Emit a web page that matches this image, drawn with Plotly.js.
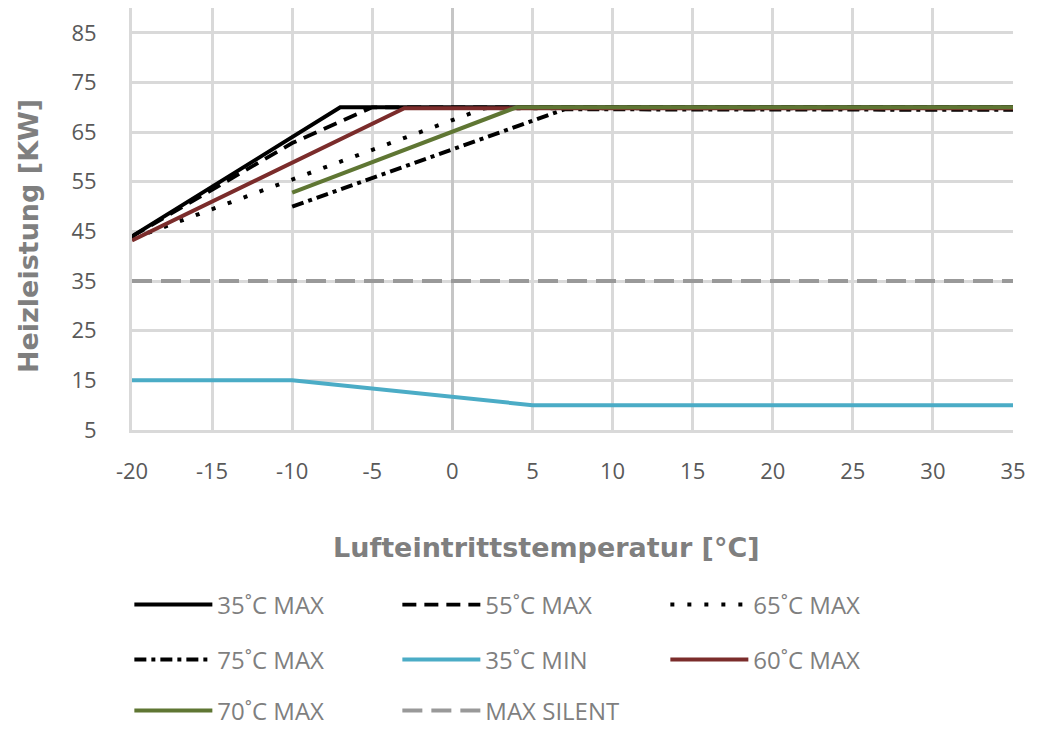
<!DOCTYPE html>
<html>
<head>
<meta charset="utf-8">
<script src="https://cdn.plot.ly/plotly-3.0.1.min.js"></script>
<style>html,body{margin:0;padding:0;background:#fff;}#chart{width:1046px;height:729px;}</style>
</head>
<body>
<div id="chart"></div>
<script>
// ---- data ----
const seriesNames = ['35˚C MAX', '55˚C MAX', '65˚C MAX', '75˚C MAX', '35˚C MIN', '60˚C MAX', '70˚C MAX', 'MAX SILENT'];

const x35max = [-20, -7, 35];
const y35max = [44, 70, 70];

const x55max = [-20, -10, -5, 35];
const y55max = [44, 62.8, 70, 70];

const x65max = [-20, 2, 35];
const y65max = [43.5, 69.8, 69.8];

const x75max = [-10, 7, 35];
const y75max = [50, 69.6, 69.5];

const x35min = [-20, -10, 5, 35];
const y35min = [15, 15, 10, 10];

const x60max = [-20, -3, 35];
const y60max = [43.2, 69.8, 69.8];

const x70max = [-10, 4, 35];
const y70max = [52.8, 70, 70];

const xSilent = [-20, 35];
const ySilent = [35, 35];

const xTickVals = [-20, -15, -10, -5, 0, 5, 10, 15, 20, 25, 30, 35];
const xTickText = ['-20', '-15', '-10', '-5', '0', '5', '10', '15', '20', '25', '30', '35'];
const yTickVals = [5, 15, 25, 35, 45, 55, 65, 75, 85];

const xTitle = 'Lufteintrittstemperatur [°C]';
const yTitle = 'Heizleistung [KW]';

// ---- traces ----
function tr(x, y, name, color, width, dash, legend) {
  return {x: x, y: y, name: name, type: 'scatter', mode: 'lines',
          line: {color: color, width: width, dash: dash}, legend: legend,
          hoverinfo: 'x+y+name'};
}
const traces = [
  tr(x35max, y35max, seriesNames[0], '#000000', 4, 'solid', 'legend'),
  tr(x55max, y55max, seriesNames[1], '#000000', 3.8, '14px,8px', 'legend'),
  tr(x65max, y65max, seriesNames[2], '#000000', 4, '4px,13px', 'legend'),
  tr(x75max, y75max, seriesNames[3], '#000000', 4, '12px,5px,4px,5px', 'legend2'),
  tr(x35min, y35min, seriesNames[4], '#4bacc6', 4, 'solid', 'legend2'),
  tr(x60max, y60max, seriesNames[5], '#7b2c2b', 4, 'solid', 'legend2'),
  tr(x70max, y70max, seriesNames[6], '#5f7633', 4, 'solid', 'legend3'),
  tr(xSilent, ySilent, seriesNames[7], '#999999', 4, '20px,9px', 'legend3')
];

const legendFont = {family: 'Open Sans, sans-serif', size: 24, color: '#7f7f7f'};
function lg(y) {
  return {orientation: 'h', x: -0.003, xanchor: 'left', y: y, yanchor: 'middle',
          entrywidth: 175, entrywidthmode: 'pixels', itemwidth: 78,
          font: legendFont, bgcolor: 'rgba(0,0,0,0)', borderwidth: 0,
          traceorder: 'normal', itemclick: false, itemdoubleclick: false};
}

const titleFont = {family: 'DejaVu Sans, sans-serif', size: 27, color: '#7f7f7f', weight: 'bold'};
const tickFont = {family: 'Open Sans, sans-serif', size: 22, color: '#595959'};

// plot area: x 132..1013 px, y 8..430 px
const layout = {
  width: 1046, height: 729,
  margin: {l: 132, r: 33, t: 8, b: 299, pad: 0, autoexpand: false},
  paper_bgcolor: '#ffffff', plot_bgcolor: '#ffffff',
  showlegend: true,
  xaxis: {
    range: [-20, 35], tickmode: 'array', tickvals: xTickVals, ticktext: xTickText,
    showgrid: true, gridcolor: '#d9d9d9', gridwidth: 3,
    zeroline: true, zerolinecolor: '#c6c6c6', zerolinewidth: 3,
    showline: true, linecolor: '#d9d9d9', linewidth: 3,
    ticks: '', ticklabelstandoff: 20, tickfont: tickFont,
    fixedrange: true
  },
  yaxis: {
    range: [5, 90], tickmode: 'array', tickvals: yTickVals,
    showgrid: true, gridcolor: '#d9d9d9', gridwidth: 3,
    zeroline: false,
    showline: true, linecolor: '#d9d9d9', linewidth: 3,
    ticks: '', ticklabelstandoff: 28, tickfont: tickFont,
    fixedrange: true
  },
  annotations: [
    {text: xTitle, xref: 'paper', yref: 'paper', x: 0.471, y: -0.2773,
     xanchor: 'center', yanchor: 'middle', showarrow: false, font: titleFont},
    {text: yTitle, xref: 'paper', yref: 'paper', x: -0.118, y: 0.4597,
     xanchor: 'center', yanchor: 'middle', textangle: -90, showarrow: false, font: titleFont}
  ],
  legend: lg(-0.4147),
  legend2: lg(-0.545),
  legend3: lg(-0.6659)
};

Plotly.newPlot('chart', traces, layout, {displayModeBar: false});
</script>
</body>
</html>
